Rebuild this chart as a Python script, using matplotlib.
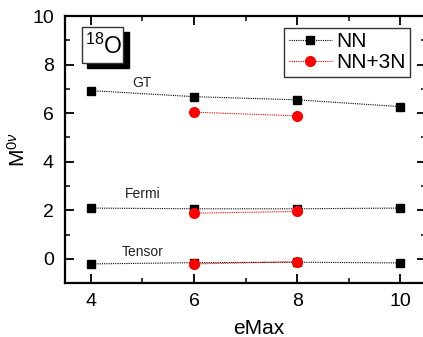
import matplotlib
matplotlib.use('Agg')
import matplotlib.pyplot as plt
from matplotlib.patches import Rectangle
from matplotlib.ticker import MultipleLocator

plt.rcParams['font.family'] = ['Liberation Sans', 'DejaVu Sans']
plt.rcParams['mathtext.fontset'] = 'custom'
plt.rcParams['mathtext.rm'] = 'Liberation Sans'
plt.rcParams['mathtext.it'] = 'Liberation Sans:italic'

# valores de M^0v por eMax
emax_nn = [4, 6, 8, 10]
gt_nn = [6.93, 6.68, 6.55, 6.27]
fermi_nn = [2.09, 2.06, 2.06, 2.09]
tensor_nn = [-0.21, -0.16, -0.14, -0.17]

emax_3n = [6, 8]
gt_3n = [6.04, 5.89]
fermi_3n = [1.88, 1.95]
tensor_3n = [-0.21, -0.12]

rotulos = ['GT', 'Fermi', 'Tensor']
rotulos_x = [5.0, 5.0, 5.0]
rotulos_y = [7.25, 2.65, 0.28]

fig = plt.figure(figsize=(4.23, 3.37), dpi=100)
ax = fig.add_axes([0.1537, 0.160, 0.8534, 0.7923])

estilo_nn = dict(color='black', marker='s', markersize=6.3, linestyle=(0, (1, 1)), linewidth=0.8)
estilo_3n = dict(color='#ff0000', marker='o', markersize=7, linestyle=(0, (1, 1)), linewidth=0.8)

ax.plot(emax_nn, gt_nn, label='NN', **estilo_nn)
ax.plot(emax_nn, fermi_nn, **estilo_nn)
ax.plot(emax_nn, tensor_nn, **estilo_nn)
ax.plot(emax_3n, gt_3n, label='NN+3N', zorder=3, **estilo_3n)
ax.plot(emax_3n, fermi_3n, zorder=3, **estilo_3n)
ax.plot(emax_3n, tensor_3n, zorder=3, **estilo_3n)

for texto, x, y in zip(rotulos, rotulos_x, rotulos_y):
    ax.text(x, y, texto, fontsize=10, color='#222222', ha='center', va='center')

ax.set_xlim(3.5, 10.5)
ax.set_ylim(-1, 10)
ax.xaxis.set_major_locator(MultipleLocator(2))
ax.xaxis.set_minor_locator(MultipleLocator(1))
ax.yaxis.set_major_locator(MultipleLocator(2))
ax.yaxis.set_minor_locator(MultipleLocator(1))
ax.tick_params(which='both', direction='in', top=True, right=True, labelsize=14)
ax.tick_params(which='major', length=6.5, width=1.3)
ax.tick_params(which='minor', length=3.5, width=1.1)
ax.tick_params(axis='x', pad=7)
ax.tick_params(axis='y', pad=8)
for s in ax.spines.values():
    s.set_linewidth(1.6)

ax.set_xlabel('eMax', fontsize=15)
ax.xaxis.set_label_coords(0.537, -0.135)
ax.set_ylabel(r'M$^{0\nu}$', fontsize=15)
ax.yaxis.set_label_coords(-0.10, 0.5)

# caixa com sombra do núcleo
ax.add_patch(Rectangle((0.061, 0.805), 0.116, 0.135, transform=ax.transAxes,
                       facecolor='black', edgecolor='black', zorder=4))
ax.add_patch(Rectangle((0.047, 0.824), 0.1136, 0.135, transform=ax.transAxes,
                       facecolor='white', edgecolor='#333333', linewidth=1.0, zorder=5))
ax.text(0.106, 0.885, r'$^{18}$O', transform=ax.transAxes, fontsize=16.5,
        ha='center', va='center', zorder=6)

leg = ax.legend(loc='upper right', bbox_to_anchor=(0.956, 0.955), fontsize=15,
                frameon=True, fancybox=False, edgecolor='black', borderpad=0.2,
                labelspacing=0.1, handletextpad=0.2, handlelength=2.1,
                borderaxespad=0)
leg.get_frame().set_linewidth(1.0)

plt.savefig('out.png', dpi=100)
